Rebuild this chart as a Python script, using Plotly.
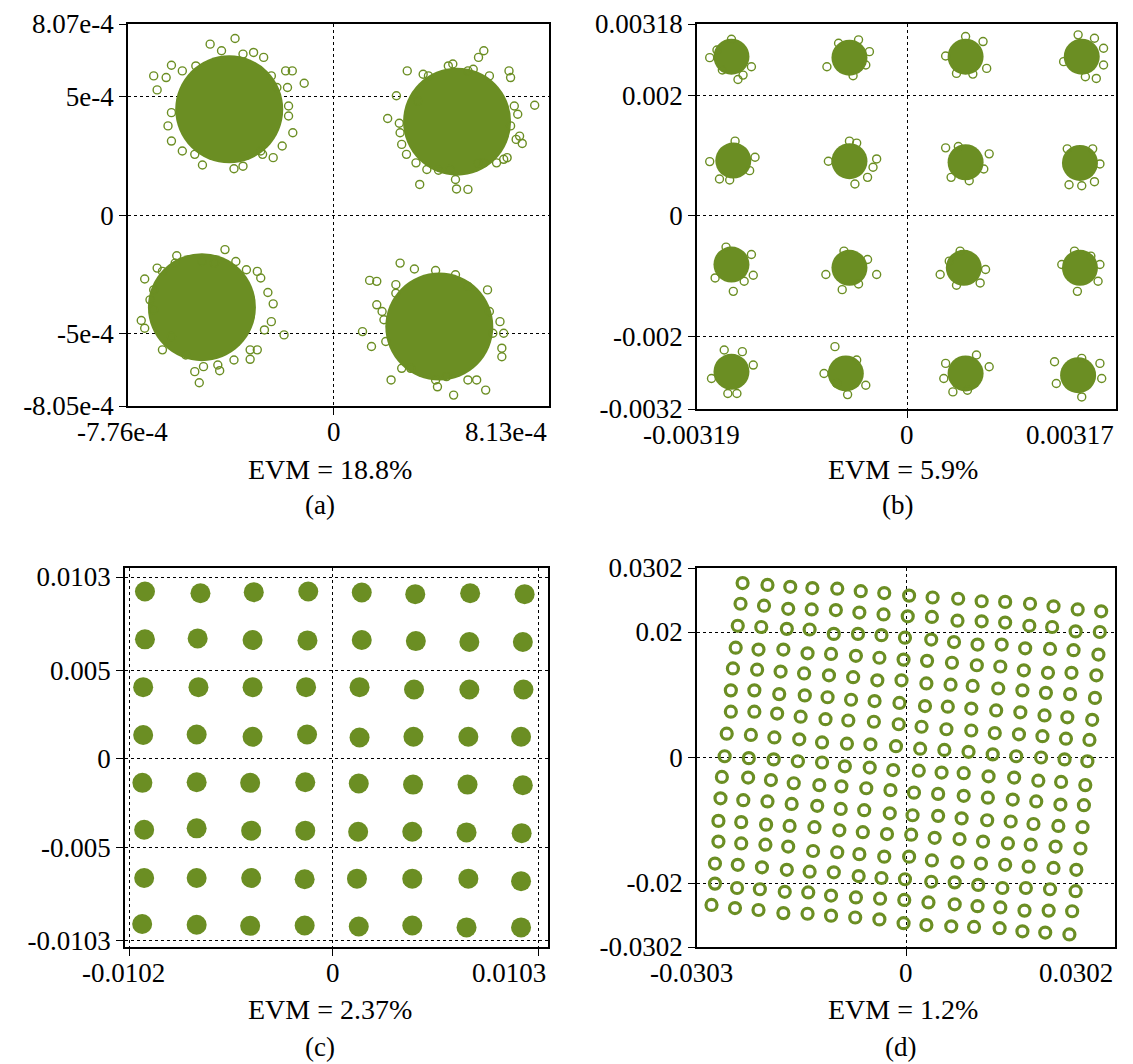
import plotly.graph_objects as go

GREEN = "#6b8e23"
FONT = "Liberation Serif, Times New Roman, Times, serif"
FS = 27       # tick labels
FS_EVM = 28   # EVM lines
FS_CAP = 27   # (a)-(d)

# ---------------- panel (a): QPSK, values in units of 1e-4 ----------------
A_UNIT = 1e-4
A_CORE = [(-3.94, 4.47), (4.66, 3.95), (-4.97, -3.88), (3.99, -4.70)]
A_OUT = [
    # upper-left cloud
    (-6.79, 5.88), (-6.12, 6.33), (-5.71, 6.09), (-5.20, 6.30), (-4.66, 7.22), (-4.23, 6.94),
    (-3.72, 7.46), (-3.42, 6.80), (-3.02, 6.87), (-2.64, 6.66), (-1.81, 6.09), (-1.56, 6.09),
    (-1.11, 5.57), (-1.74, 5.39), (-1.70, 4.61), (-1.70, 4.19), (-1.54, 3.48), (-1.94, 2.92),
    (-2.28, 2.43), (-2.68, 2.57), (-3.42, 2.07), (-3.76, 1.96), (-4.95, 2.12), (-5.24, 2.57),
    (-5.71, 2.71), (-6.12, 3.13), (-6.25, 3.77), (-6.66, 5.29), (-6.32, 5.81), (-2.35, 5.88),
    (-2.14, 5.39), (-6.12, 4.33), (-2.75, 2.71),
    # upper-right cloud
    (2.04, 4.08), (2.37, 5.04), (2.48, 3.88), (2.78, 6.09), (3.38, 5.95), (3.58, 5.88),
    (4.33, 6.30), (4.50, 6.38), (5.07, 6.09), (5.27, 6.16), (5.47, 6.66), (5.67, 6.94),
    (5.88, 5.88), (6.62, 6.09), (6.68, 5.81), (6.82, 4.61), (6.95, 4.26), (7.59, 4.64),
    (7.02, 3.34), (7.12, 3.03), (6.55, 2.43), (6.42, 2.36), (6.15, 2.21), (5.67, 2.21),
    (5.44, 2.21), (5.07, 1.09), (4.64, 1.11), (4.60, 1.51), (4.39, 1.93), (3.96, 1.90),
    (3.52, 1.93), (3.25, 1.30), (3.11, 2.21), (2.75, 2.57), (2.57, 2.99), (2.51, 3.48),
    (3.18, 4.82), (6.68, 3.77), (6.89, 3.20),
    # lower-left cloud
    (-4.10, -1.45), (-5.92, -1.71), (-5.98, -2.02), (-6.66, -2.23), (-7.13, -2.69), (-7.26, -4.44),
    (-7.13, -4.77), (-6.93, -3.57), (-6.79, -3.99), (-6.46, -5.68), (-6.12, -5.12), (-5.58, -5.90),
    (-5.24, -6.60), (-5.07, -7.07), (-4.91, -6.39), (-4.37, -6.32), (-4.30, -6.56), (-3.76, -6.11),
    (-3.15, -6.08), (-2.88, -5.68), (-2.35, -4.49), (-1.87, -5.05), (-2.28, -3.74), (-2.48, -3.26),
    (-2.75, -2.65), (-2.88, -2.37), (-3.29, -2.30), (-3.69, -1.95), (-4.97, -1.95), (-4.50, -2.02),
    (-6.46, -2.37), (-6.79, -3.15), (-2.61, -4.84), (-3.15, -5.68),
    # lower-right cloud
    (2.51, -2.02), (1.36, -2.75), (1.63, -2.79), (3.05, -2.27), (3.85, -2.33), (4.60, -2.51),
    (5.07, -3.00), (5.81, -3.15), (5.88, -4.06), (6.28, -4.49), (6.42, -4.98), (6.35, -5.61),
    (6.35, -5.97), (5.74, -7.38), (5.40, -6.95), (5.07, -6.95), (4.53, -7.59), (3.92, -7.24),
    (3.85, -6.95), (2.91, -6.46), (2.57, -6.46), (2.17, -6.95), (1.97, -5.33), (1.43, -5.54),
    (1.09, -4.91), (1.63, -3.78), (1.83, -4.06), (1.90, -4.41), (2.35, -3.29), (2.35, -2.93),
    (6.01, -4.98), (4.26, -6.81),
]

# ---------------- panel (b): 16-QAM, values in units of 1e-3 ----------------
B_UNIT = 1e-3
B_CORE_I = [-2.667, -0.876, 0.887, 2.650, -2.639, -0.876, 0.887, 2.623,
            -2.667, -0.876, 0.860, 2.623, -2.667, -0.931, 0.887, 2.595]
B_CORE_Q = [2.639, 2.622, 2.639, 2.639, 0.917, 0.906, 0.889, 0.878,
            -0.806, -0.861, -0.861, -0.861, -2.583, -2.611, -2.611, -2.639]
B_OUT = [
    (-2.997, 2.622), (-2.568, 2.261), (-2.491, 2.333), (-2.364, 2.472), (-2.667, 2.928), (-2.805, 2.417), (-2.887, 2.750),
    (-1.218, 2.472), (-0.821, 2.322), (-0.573, 2.722), (-0.628, 2.500), (-1.041, 2.861), (-0.738, 2.917),
    (0.584, 2.650), (0.887, 2.972), (1.152, 2.889), (1.207, 2.444), (0.997, 2.350), (0.749, 2.361),
    (2.595, 3.000), (2.843, 2.944), (2.981, 2.778), (2.981, 2.500), (2.871, 2.278), (2.375, 2.556), (2.705, 2.306),
    (-2.997, 0.900), (-2.849, 0.611), (-2.612, 1.239), (-2.309, 0.972), (-2.391, 0.750), (-2.694, 0.594),
    (-1.196, 0.906), (-0.876, 1.239), (-0.793, 0.528), (-0.601, 0.639), (-0.463, 0.944), (-0.518, 0.806), (-0.766, 1.206),
    (0.584, 1.128), (0.777, 1.150), (1.245, 1.028), (1.163, 0.778), (0.667, 0.639), (0.942, 0.583),
    (2.430, 1.111), (2.816, 1.111), (2.926, 0.861), (2.843, 0.567), (2.457, 0.517), (2.650, 0.500),
    (-2.749, -0.517), (-2.364, -0.639), (-2.336, -0.983), (-2.474, -1.083), (-2.639, -1.250), (-2.915, -1.028),
    (-1.234, -0.972), (-0.959, -0.583), (-0.738, -1.128), (-0.463, -0.972), (-0.986, -1.222), (-0.601, -0.722),
    (0.501, -0.972), (0.804, -0.583), (1.190, -0.889), (1.108, -1.111), (0.749, -1.150), (0.639, -0.750),
    (2.347, -0.806), (2.540, -0.583), (2.788, -0.667), (2.926, -0.806), (2.898, -1.083), (2.584, -1.250),
    (-2.970, -2.694), (-2.777, -2.222), (-2.502, -2.250), (-2.336, -2.472), (-2.584, -2.944), (-2.722, -2.944),
    (-1.096, -2.167), (-1.262, -2.611), (-0.766, -2.389), (-0.628, -2.806), (-0.904, -2.961), (-1.069, -2.778),
    (0.556, -2.694), (0.584, -2.444), (1.052, -2.306), (1.245, -2.500), (0.915, -2.889), (0.694, -2.917),
    (2.237, -2.417), (2.264, -2.778), (2.650, -2.361), (2.926, -2.444), (2.953, -2.694), (2.650, -3.000),
]

# ---------------- panel (c): 64-QAM, values in units of 1e-3 ----------------
C_UNIT = 1e-3
C_I = [
    [-9.41, -6.63, -3.96, -1.23, 1.45, 4.13, 6.88, 9.61],
    [-9.41, -6.77, -4.02, -1.27, 1.45, 4.16, 6.84, 9.52],
    [-9.50, -6.73, -4.02, -1.34, 1.34, 4.07, 6.84, 9.55],
    [-9.50, -6.82, -4.02, -1.29, 1.34, 4.04, 6.79, 9.43],
    [-9.54, -6.82, -4.14, -1.38, 1.30, 4.02, 6.75, 9.52],
    [-9.45, -6.82, -4.09, -1.38, 1.27, 3.98, 6.70, 9.46],
    [-9.45, -6.82, -4.09, -1.41, 1.21, 3.98, 6.79, 9.43],
    [-9.55, -6.82, -4.14, -1.41, 1.30, 3.98, 6.70, 9.43],
]
C_Q = [
    [9.48, 9.38, 9.44, 9.48, 9.42, 9.33, 9.38, 9.33],
    [6.77, 6.82, 6.73, 6.71, 6.73, 6.67, 6.62, 6.62],
    [4.06, 4.06, 4.06, 4.06, 4.06, 3.93, 3.93, 3.93],
    [1.35, 1.38, 1.25, 1.38, 1.21, 1.25, 1.25, 1.25],
    [-1.36, -1.33, -1.36, -1.33, -1.40, -1.46, -1.46, -1.50],
    [-4.02, -3.94, -4.07, -4.07, -4.13, -4.13, -4.17, -4.21],
    [-6.75, -6.75, -6.75, -6.82, -6.79, -6.79, -6.79, -6.93],
    [-9.36, -9.40, -9.46, -9.44, -9.50, -9.44, -9.55, -9.55],
]

# ---------------- panel (d): 256-QAM, values in units of 1e-3 ----------------
D_UNIT = 1e-3
D_I = [
    [-23.7, -20.1, -16.8, -13.6, -10.0, -6.6, -3.2, 0.4, 3.8, 7.5, 10.9, 14.3, 17.9, 21.3, 24.8, 28.2],
    [-24.0, -20.6, -17.1, -13.7, -10.2, -6.8, -3.3, 0.2, 3.7, 7.4, 10.9, 14.3, 17.8, 21.1, 24.5, 28.0],
    [-24.4, -21.0, -17.3, -14.0, -10.5, -7.0, -3.6, -0.2, 3.6, 6.9, 10.3, 13.8, 17.2, 20.8, 24.2, 27.8],
    [-24.7, -21.4, -17.8, -14.3, -10.9, -7.3, -3.9, -0.4, 3.0, 6.6, 10.2, 13.6, 17.0, 20.5, 23.9, 27.5],
    [-25.1, -21.6, -18.2, -14.8, -11.2, -7.7, -4.2, -0.7, 2.9, 6.4, 9.6, 13.3, 16.8, 20.2, 23.7, 27.3],
    [-25.4, -22.0, -18.4, -14.7, -11.4, -8.0, -4.6, -1.0, 2.7, 6.0, 9.4, 13.0, 16.5, 20.0, 23.3, 26.9],
    [-25.4, -22.0, -18.7, -15.3, -11.7, -8.4, -4.7, -1.1, 2.2, 5.8, 9.4, 12.8, 16.3, 19.7, 23.1, 26.5],
    [-26.0, -22.5, -19.1, -15.5, -12.2, -8.6, -5.2, -1.5, 2.0, 5.5, 9.0, 12.5, 15.9, 19.5, 22.9, 26.2],
    [-26.3, -22.8, -19.2, -15.7, -12.2, -8.9, -5.3, -1.9, 1.8, 5.1, 8.3, 11.9, 15.6, 19.1, 22.4, 25.9],
    [-26.7, -22.9, -19.6, -16.3, -12.6, -9.4, -5.8, -2.3, 1.1, 4.6, 8.3, 11.8, 15.4, 18.8, 22.3, 25.7],
    [-26.9, -23.6, -20.1, -16.6, -12.9, -9.5, -6.1, -2.4, 0.9, 4.6, 8.0, 11.7, 15.1, 18.4, 22.0, 25.5],
    [-27.2, -23.9, -20.3, -16.9, -13.3, -9.7, -6.3, -2.8, 0.7, 4.1, 7.7, 11.1, 14.7, 18.0, 21.6, 25.2],
    [-27.2, -23.9, -20.4, -17.1, -13.5, -10.0, -6.8, -3.2, 0.4, 3.7, 7.4, 10.8, 14.3, 17.7, 21.3, 24.6],
    [-27.7, -24.4, -20.9, -17.3, -14.0, -10.5, -6.9, -3.6, -0.2, 3.6, 7.0, 10.4, 13.9, 17.3, 20.8, 24.5],
    [-27.7, -24.5, -21.2, -17.6, -14.2, -10.9, -7.3, -3.8, -0.3, 3.2, 7.0, 10.3, 13.6, 17.1, 20.6, 24.0],
    [-28.2, -24.8, -21.4, -17.8, -14.3, -10.9, -7.4, -3.9, -0.4, 2.9, 6.5, 9.8, 13.5, 16.8, 20.1, 23.6],
]
D_Q = [
    [27.8, 27.5, 27.2, 27.0, 26.9, 26.5, 26.2, 25.8, 25.5, 25.3, 24.9, 24.8, 24.5, 24.1, 23.6, 23.3],
    [24.5, 24.2, 23.7, 23.6, 23.5, 23.1, 22.8, 22.5, 22.4, 21.8, 21.7, 21.5, 21.0, 20.8, 20.1, 20.0],
    [21.0, 20.8, 20.5, 20.4, 19.7, 19.7, 19.5, 19.1, 18.8, 18.4, 18.0, 18.0, 17.4, 17.3, 17.1, 16.4],
    [17.5, 17.2, 17.2, 16.6, 16.5, 16.2, 15.9, 15.6, 15.4, 15.1, 14.7, 14.5, 13.9, 13.5, 13.5, 13.1],
    [14.2, 14.0, 13.7, 13.4, 13.1, 12.8, 12.3, 12.3, 11.8, 11.6, 11.4, 11.0, 10.7, 10.3, 10.1, 9.5],
    [10.7, 10.7, 10.1, 9.9, 9.6, 9.2, 9.0, 8.7, 8.2, 8.1, 7.8, 7.5, 7.2, 6.7, 6.4, 6.0],
    [7.3, 7.3, 7.0, 6.5, 6.1, 5.9, 5.7, 5.3, 4.9, 4.5, 4.3, 3.9, 3.7, 3.4, 3.0, 2.8],
    [3.8, 3.6, 3.2, 2.9, 2.4, 2.2, 2.1, 1.8, 1.4, 1.2, 0.9, 0.5, 0.2, 0.0, -0.3, -0.6],
    [0.2, -0.1, -0.3, -0.6, -0.8, -1.4, -1.6, -2.0, -2.1, -2.4, -2.5, -3.0, -3.2, -3.7, -3.9, -4.4],
    [-3.1, -3.2, -3.6, -4.1, -4.4, -4.6, -4.9, -5.2, -5.6, -5.8, -6.1, -6.4, -6.7, -7.0, -7.5, -7.6],
    [-6.5, -6.8, -7.0, -7.4, -7.7, -8.2, -8.4, -8.9, -9.2, -9.3, -9.7, -10.0, -10.2, -10.6, -10.9, -11.1],
    [-10.1, -10.3, -10.7, -10.9, -11.1, -11.6, -11.9, -12.2, -12.3, -12.8, -13.0, -13.4, -13.7, -13.9, -14.2, -14.5],
    [-13.4, -13.7, -13.9, -14.2, -14.9, -15.1, -15.4, -15.8, -15.8, -16.4, -16.7, -16.9, -17.1, -17.4, -17.6, -17.9],
    [-16.9, -17.1, -17.5, -17.9, -18.2, -18.3, -18.9, -19.2, -19.4, -19.8, -19.9, -20.3, -20.8, -20.8, -21.0, -21.3],
    [-20.1, -20.8, -21.0, -21.4, -21.5, -22.0, -22.3, -22.5, -22.7, -23.1, -23.4, -23.7, -23.9, -24.4, -24.4, -24.5],
    [-23.5, -24.0, -24.3, -24.8, -24.9, -25.2, -25.5, -25.8, -26.4, -26.7, -26.9, -27.0, -27.2, -27.7, -27.9, -28.2],
]

# axis ranges / ticks (as printed on the chart)
A_XRANGE = [-7.76e-4, 8.13e-4]; A_YRANGE = [-8.05e-4, 8.07e-4]
B_XRANGE = [-0.00319, 0.00317]; B_YRANGE = [-0.0032, 0.00318]
C_XRANGE = [-0.01041, 0.01078]; C_YRANGE = [-0.01066, 0.01081]
D_XRANGE = [-0.0303, 0.0302]; D_YRANGE = [-0.0302, 0.0302]

A_YTICKS = [-8.05e-4, -5e-4, 0, 5e-4, 8.07e-4]; A_YTEXT = ["-8.05e-4", "-5e-4", "0", "5e-4", "8.07e-4"]
B_YTICKS = [-0.0032, -0.002, 0, 0.002, 0.00318]; B_YTEXT = ["-0.0032", "-0.002", "0", "0.002", "0.00318"]
C_YTICKS = [-0.0103, -0.005, 0, 0.005, 0.0103]; C_YTEXT = ["-0.0103", "-0.005", "0", "0.005", "0.0103"]
D_YTICKS = [-0.0302, -0.02, 0, 0.02, 0.0302]; D_YTEXT = ["-0.0302", "-0.02", "0", "0.02", "0.0302"]

A_XLAB = [(-7.76e-4, "-7.76e-4"), (0, "0"), (8.13e-4, "8.13e-4")]
B_XLAB = [(-0.00319, "-0.00319"), (0, "0"), (0.00317, "0.00317")]
C_XLAB = [(-0.0102, "-0.0102"), (0, "0"), (0.0103, "0.0103")]
D_XLAB = [(-0.0303, "-0.0303"), (0, "0"), (0.0302, "0.0302")]

EVM = ["EVM = 18.8%", "EVM = 5.9%", "EVM = 2.37%", "EVM = 1.2%"]
CAPTIONS = ["(a)", "(b)", "(c)", "(d)"]

W, H = 1133, 1064
BOX = {  # pixel boxes: left, right, top, bottom
    1: (128, 549, 24, 406),
    2: (697, 1116, 24, 409),
    3: (125, 548, 568, 947),
    4: (697, 1115, 568, 947),
}

fig = go.Figure()


def pts(xs, ys, k, symbol, size, lw=1.3):
    sfx = "" if k == 1 else str(k)
    fig.add_trace(go.Scatter(
        x=xs, y=ys, mode="markers", xaxis="x" + sfx, yaxis="y" + sfx,
        marker=dict(symbol=symbol, size=size, color=GREEN,
                    line=dict(color=GREEN, width=lw)),
        showlegend=False, hoverinfo="skip"))


# (a)
pts([p[0] * A_UNIT for p in A_CORE], [p[1] * A_UNIT for p in A_CORE], 1, "circle", 108, 0)
pts([p[0] * A_UNIT for p in A_OUT], [p[1] * A_UNIT for p in A_OUT], 1, "circle-open", 8, 1.4)
# (b)
pts([v * B_UNIT for v in B_CORE_I], [v * B_UNIT for v in B_CORE_Q], 2, "circle", 36, 0)
pts([p[0] * B_UNIT for p in B_OUT], [p[1] * B_UNIT for p in B_OUT], 2, "circle-open", 8, 1.4)
# (c)
ci = [v * C_UNIT for row in C_I for v in row]
cq = [v * C_UNIT for row in C_Q for v in row]
pts(ci, cq, 3, "circle", 20, 0)
# (d)
di = [v * D_UNIT for row in D_I for v in row]
dq = [v * D_UNIT for row in D_Q for v in row]
pts(di, dq, 4, "circle-open", 11, 3.2)

tick_font = dict(family=FONT, size=FS, color="black")
common = dict(showline=True, linecolor="black", linewidth=1.5, mirror=True,
              showgrid=True, gridcolor="black", griddash="dot", gridwidth=1,
              zeroline=False, ticks="outside", ticklen=7, tickcolor="black",
              tickwidth=1, tickfont=tick_font, automargin=False)

ranges = {1: (A_XRANGE, A_YRANGE, A_YTICKS, A_YTEXT, [0]),
          2: (B_XRANGE, B_YRANGE, B_YTICKS, B_YTEXT, [0]),
          3: (C_XRANGE, C_YRANGE, C_YTICKS, C_YTEXT, [-0.0102, 0, 0.0103]),
          4: (D_XRANGE, D_YRANGE, D_YTICKS, D_YTEXT, [0])}
xlabs = {1: A_XLAB, 2: B_XLAB, 3: C_XLAB, 4: D_XLAB}

layout = dict(width=W, height=H, margin=dict(l=0, r=0, t=0, b=0, autoexpand=False),
              paper_bgcolor="white", plot_bgcolor="white", showlegend=False,
              font=dict(family=FONT, size=FS, color="black"))
annotations = []
for k in range(1, 5):
    l, r, t, b = BOX[k]
    xr, yr, ytv, ytt, xtv = ranges[k]
    sfx = "" if k == 1 else str(k)
    layout["xaxis" + sfx] = dict(common, domain=[l / W, r / W], range=xr,
                                 anchor="y" + sfx, tickvals=xtv, showticklabels=False)
    layout["yaxis" + sfx] = dict(common, domain=[1 - b / H, 1 - t / H], range=yr,
                                 anchor="x" + sfx, tickvals=ytv, ticktext=ytt)
    labs = xlabs[k]
    for j, (v, txt) in enumerate(labs):
        if j == len(labs) - 1:
            xa, xs_ = "right", 0
            v = xr[1]
        elif j == 0:
            xa, xs_ = "center", -6
        else:
            xa, xs_ = "center", 0
        annotations.append(dict(x=v, y=0, xref="x" + sfx, yref="y" + sfx + " domain",
                                text=txt, showarrow=False, xanchor=xa, yanchor="top",
                                xshift=xs_, yshift=-9, font=tick_font))

EVM_POS = [(330, 469), (903, 469), (330, 1009), (903, 1009)]
CAP_POS = [(320, 505), (897, 505), (320, 1047), (900, 1047)]
for k in range(4):
    ex, ey = EVM_POS[k]
    annotations.append(dict(x=ex / W, y=1 - ey / H, xref="paper", yref="paper",
                            text=EVM[k], showarrow=False, xanchor="center", yanchor="middle",
                            font=dict(family=FONT, size=FS_EVM, color="black")))
    cx, cy = CAP_POS[k]
    annotations.append(dict(x=cx / W, y=1 - cy / H, xref="paper", yref="paper",
                            text=CAPTIONS[k], showarrow=False, xanchor="center", yanchor="middle",
                            font=dict(family=FONT, size=FS_CAP, color="black")))

layout["annotations"] = annotations
fig.update_layout(**layout)
fig.write_html("out.html")
